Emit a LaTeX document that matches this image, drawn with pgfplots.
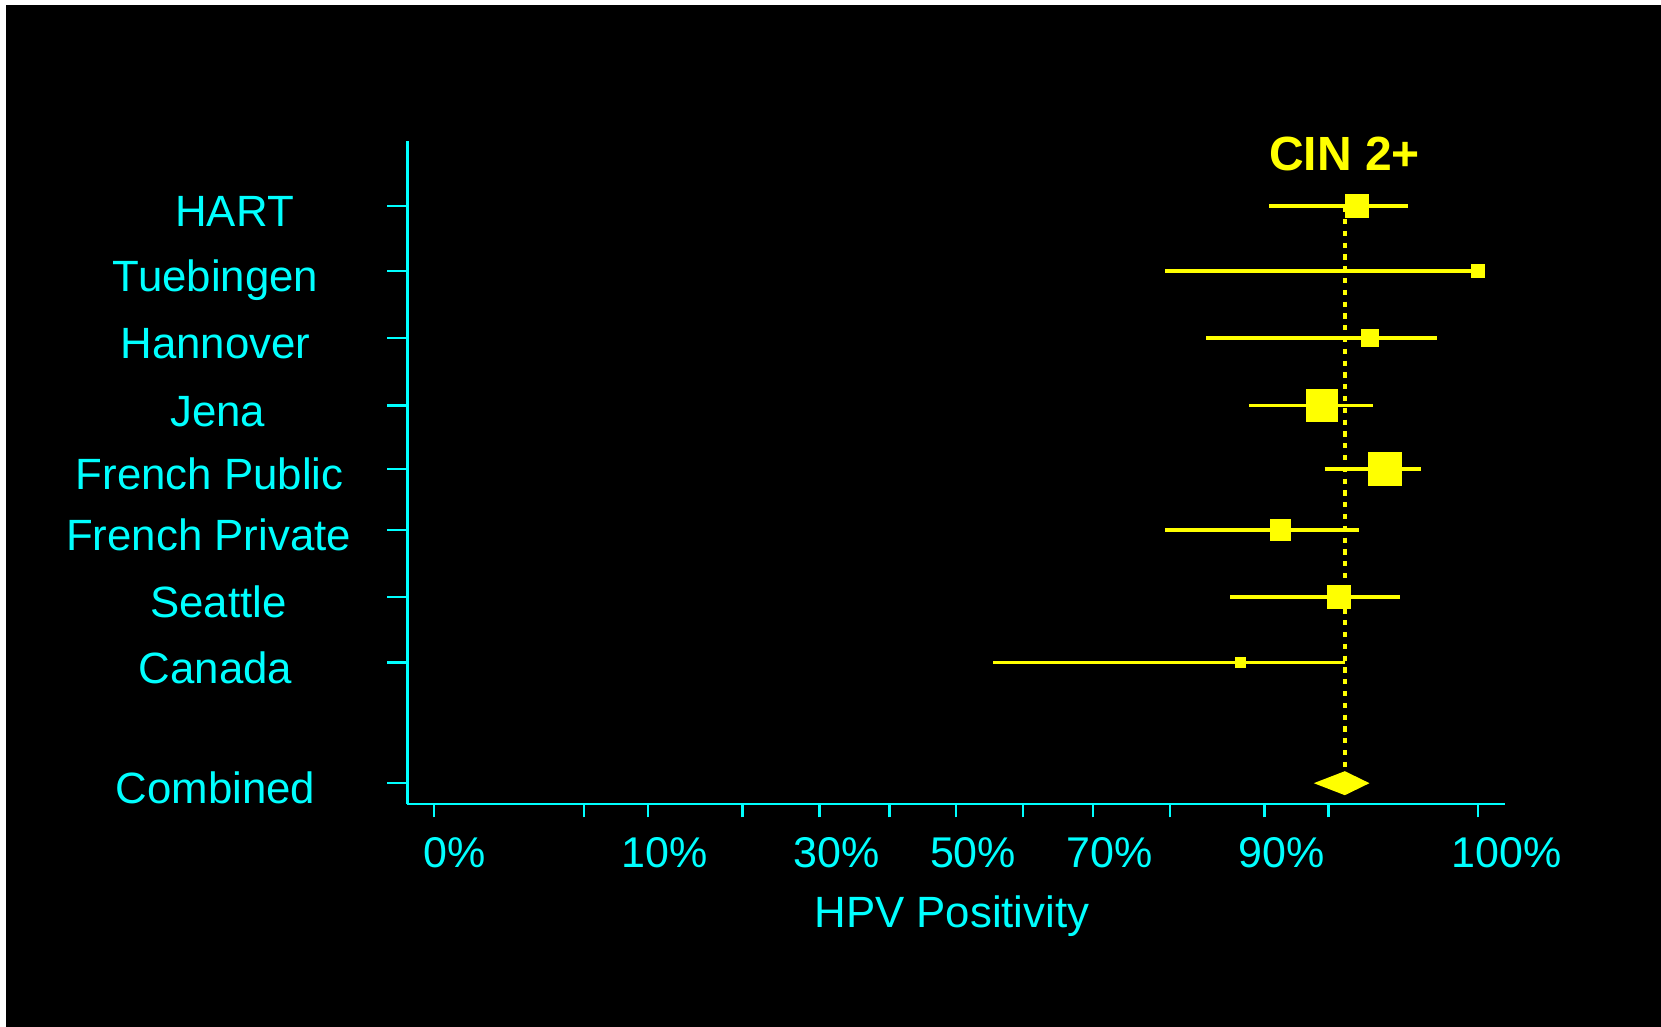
\documentclass[border=0pt]{standalone}
\usepackage{fontspec}
\setmainfont{Liberation Sans}
\usepackage{pgfplots}
\pgfplotsset{compat=1.18}
\definecolor{cy}{RGB}{0,255,255}
\definecolor{yl}{RGB}{255,255,0}
\newcommand\lbl{\fontsize{21.5pt}{25pt}\selectfont}
\newcommand\cat{\fontsize{21.9pt}{25pt}\selectfont}
\begin{document}
\begin{tikzpicture}
\fill[white] (0,0) rectangle (830.5pt,513.5pt);
\fill[black] (3pt,0) rectangle (830.5pt,511pt);
\begin{axis}[
  at={(203.65pt,111.5pt)}, anchor=south west,
  scale only axis, width=548.65pt, height=331.4pt,
  x coord trafo/.code={\begingroup\pgfkeys{/pgf/fpu=true,/pgf/fpu/output format=fixed}\pgfmathparse{asin(sqrt(min(max(#1,0),100)/100))+min(#1,0)+max(#1-100,0)}\xdef\asintrafo{\pgfmathresult}\endgroup\let\pgfmathresult\asintrafo},
  xmin=-2.30, xmax=102.29,
  ymin=0.831, ymax=10.992,
  axis lines*=left,
  axis line style={cy, line width=1.3pt},
  tick align=outside,
  xtick={0,5,10,20,30,40,50,60,70,80,90,95,100},
  xticklabels={\hspace*{4pt}0\%,,10\%,,30\%,,50\%,,70\%,,90\%,,\hspace*{11.5pt}100\%},
  ytick={1.15,3,4,5.033,5.97,6.94,7.973,9.005,10},
  yticklabels={Combined,Canada,\hspace*{3pt}Seattle,\hspace*{-7pt}French Private,\hspace*{-6pt}French Public,\hspace*{2.2pt}Jena,Hannover,Tuebingen,\hspace*{19pt}HART},
  xtick style={cy, line width=1.2pt, /pgfplots/major tick length=6.7pt},
  ytick style={cy, line width=1.2pt, /pgfplots/major tick length=10pt},
  xticklabel style={font=\lbl, text=cy, anchor=center, xshift=8.4pt, yshift=-20.0pt, text height=15.4pt, text depth=0pt},
  yticklabel style={font=\cat, text=cy, anchor=center, xshift=-91.6pt, yshift=-2.5pt, text height=15.6pt, text depth=0pt},
  xlabel={HPV Positivity},
  xlabel style={font=\cat, text=cy, at={(axis description cs:0.4963,0)}, anchor=center, yshift=-53.85pt, text height=15.6pt, text depth=0pt},
  title={CIN 2+},
  title style={font=\fontsize{24pt}{28pt}\selectfont\bfseries, text=yl, at={(axis description cs:0.8541,0.9817)}, anchor=center, yshift=-6.0pt, text height=17.2pt, text depth=0pt},
  clip=false,
  every axis plot/.append style={yl, line width=1.9pt, line cap=butt, mark=square*, mark options={draw=none, fill=yl}},
]
% combined estimate reference line
\addplot[yl, line width=1.8pt, dash pattern=on 2.6pt off 3.3pt, mark=none] coordinates {(96.01,9.98) (96.01,1.31)};
% studies: lower CI, estimate, upper CI
\addplot[mark indices={2}, mark size=5.1pt] coordinates {(90.41,10) (96.70,10) (98.88,10)};      % HART
\addplot[mark indices={2}, mark size=2.5pt] coordinates {(79.39,9.005) (100,9.005)};              % Tuebingen
\addplot[mark indices={2}, mark size=3.6pt] coordinates {(84.13,7.973) (97.37,7.973) (99.60,7.973)}; % Hannover
\addplot[mark indices={2}, mark size=7.1pt] coordinates {(88.56,6.94) (94.58,6.94) (97.51,6.94)};    % Jena
\addplot[mark indices={2}, mark size=7.6pt] coordinates {(94.73,5.97) (98.02,5.97) (99.24,5.97)};    % French Public
\addplot[mark indices={2}, mark size=4.5pt] coordinates {(79.39,5.033) (91.38,5.033) (96.81,5.033)}; % French Private
\addplot[mark indices={2}, mark size=5.1pt] coordinates {(86.71,4) (95.64,4) (98.61,4)};             % Seattle
\addplot[mark indices={2}, mark size=2.0pt] coordinates {(55.58,3) (87.71,3) (96.01,3)};             % Canada
% combined diamond
\addplot[draw=none, fill=yl, mark=none] coordinates {(93.98,1.15) (96.01,1.334) (97.33,1.15) (96.01,0.966)} -- cycle;
\end{axis}
\end{tikzpicture}
\end{document}
